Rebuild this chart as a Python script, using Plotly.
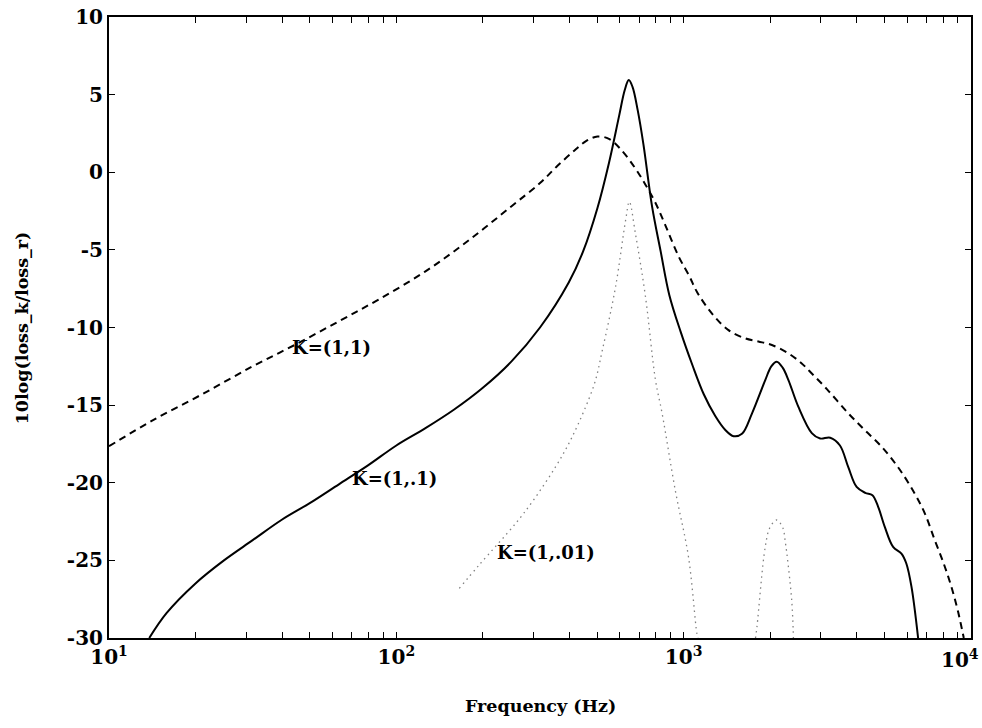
import plotly.graph_objects as go

# ---- data: log10(frequency/Hz) and level in dB ----
k11_logf = [1.0, 1.15, 1.324, 1.5, 1.649, 1.8, 1.938, 2.1, 2.251, 2.4, 2.5, 2.56, 2.62, 2.66,
            2.7, 2.74, 2.78, 2.83, 2.867, 2.9, 2.936, 2.983, 3.02, 3.046, 3.098, 3.156, 3.214,
            3.26, 3.307, 3.365, 3.41, 3.446, 3.5, 3.573, 3.63, 3.689, 3.75, 3.804, 3.84, 3.874,
            3.905, 3.932, 3.955, 3.975]
k11_db = [-17.65, -16.0, -14.3, -12.5, -11.1, -9.6, -8.2, -6.4, -4.4, -2.2, -0.7, 0.4, 1.4, 2.0,
          2.3, 2.15, 1.5, 0.3, -0.8, -1.9, -3.4, -5.44, -6.7, -7.7, -9.09, -10.17, -10.7,
          -10.9, -11.13, -11.67, -12.3, -12.96, -14.0, -15.53, -16.6, -17.68, -19.1, -20.69,
          -22.0, -23.7, -25.2, -26.71, -28.3, -30.0]

k101_logf = [1.14, 1.2, 1.3, 1.4, 1.5, 1.6, 1.7, 1.8, 1.9, 2.0, 2.1, 2.2, 2.3, 2.4, 2.5, 2.6,
             2.65, 2.7, 2.74, 2.775, 2.795, 2.809, 2.822, 2.84, 2.86, 2.89, 2.92, 2.95, 2.99, 3.03,
             3.07, 3.11, 3.145, 3.174, 3.203, 3.238, 3.284, 3.305, 3.324, 3.345, 3.365, 3.399,
             3.446, 3.475, 3.51, 3.544, 3.573, 3.602, 3.632, 3.657, 3.677, 3.70, 3.729, 3.758,
             3.775, 3.793, 3.816]
k101_db = [-30.0, -28.4, -26.5, -25.0, -23.7, -22.4, -21.3, -20.1, -18.9, -17.6, -16.5, -15.3,
           -13.9, -12.2, -10.0, -7.1, -5.1, -2.3, 0.6, 3.6, 5.3, 5.94, 5.5, 4.0, 1.8, -2.2,
           -5.1, -7.9, -10.3, -12.4, -14.3, -15.7, -16.6, -17.0, -16.85, -15.53, -13.39, -12.5,
           -12.2, -12.6, -13.4, -15.1, -16.8, -17.15, -17.1, -17.6, -19.0, -20.27, -20.65, -20.8,
           -21.55, -22.84, -24.13, -24.56, -25.2, -26.71, -30.0]

k1001_logf = [2.219, 2.288, 2.416, 2.474, 2.554, 2.612, 2.688, 2.717, 2.763, 2.798, 2.811, 2.832,
              2.867, 2.902, 2.925, 2.971, 3.017, 3.046, 3.05, None,
              3.25, 3.255, 3.284, 3.30, 3.324, 3.345, 3.353, 3.376, 3.382]
k1001_db = [-26.8, -25.3, -22.6, -21.2, -18.98, -17.04, -13.7, -11.46, -7.38, -3.09, -1.9, -3.94,
            -8.0, -13.39, -15.53, -20.5, -24.8, -29.7, -30.0, None,
            -30.0, -29.3, -24.13, -22.9, -22.4, -22.9, -23.7, -27.56, -30.0]

x_tickvals = [m * 10 ** d for d in range(1, 4) for m in range(1, 10)] + [10000]
x_ticktext = [("10<sup>%d</sup>" % d if m == 1 else " ") for d in range(1, 4) for m in range(1, 10)] + [" "]
last_decade_label = "10<sup>4</sup>"
y_tickvals = [-30, -25, -20, -15, -10, -5, 0, 5, 10]
y_ticktext = ["-30", "-25", "-20", "-15", "-10", "-5", "0", "5", "10"]

# curve labels: (text, log10 f, dB)
labels = [("K=(1,1)", 1.773, -11.26), ("K=(1,.1)", 1.995, -19.7), ("K=(1,.01)", 2.521, -24.5)]


def hz(lf):
    return [None if v is None else 10 ** v for v in lf]


FONT = "DejaVu Serif"

fig = go.Figure()
fig.add_trace(go.Scatter(x=hz(k11_logf), y=k11_db, mode="lines",
                         line=dict(color="black", width=2, dash="7px,5px", shape="spline", smoothing=1.0)))
fig.add_trace(go.Scatter(x=hz(k101_logf), y=k101_db, mode="lines",
                         line=dict(color="black", width=2, shape="spline", smoothing=1.0)))
fig.add_trace(go.Scatter(x=hz(k1001_logf), y=k1001_db, mode="lines", connectgaps=False,
                         line=dict(color="#808080", width=1.3, dash="1.5px,4px", shape="spline", smoothing=1.0)))

for txt, lx, ly in labels:
    fig.add_annotation(x=lx, y=ly, xref="x", yref="y", text=txt, showarrow=False,
                       font=dict(family=FONT, size=18, color="black", weight="bold"))

tickfont = dict(family=FONT, size=20, color="black", weight="bold")

# last decade label, kept inside the page
fig.add_annotation(x=4, y=0, xref="x", yref="paper", text=last_decade_label, showarrow=False,
                   xanchor="right", yanchor="top", xshift=10, yshift=-6, font=tickfont)

# axis titles placed as annotations
fig.add_annotation(x=0.5, y=-0.11, xref="paper", yref="paper", text="Frequency (Hz)",
                   showarrow=False, xanchor="center", yanchor="middle",
                   font=dict(family=FONT, size=17.5, color="black", weight="bold"))
fig.add_annotation(x=-0.101, y=0.5, xref="paper", yref="paper", text="10log(loss_k/loss_r)",
                   showarrow=False, textangle=-90, xanchor="center", yanchor="middle",
                   font=dict(family=FONT, size=17.5, color="black", weight="bold"))

fig.update_layout(
    width=982, height=728,
    margin=dict(l=109, r=11, t=17, b=90),
    paper_bgcolor="white", plot_bgcolor="white",
    showlegend=False,
    xaxis=dict(type="log", range=[0.9999, 4.0001], tickvals=x_tickvals, ticktext=x_ticktext,
               tickangle=0, automargin=False,
               ticks="inside", ticklen=6, tickwidth=1.3, tickcolor="black",
               showline=True, linecolor="black", linewidth=2, mirror="ticks",
               showgrid=False, zeroline=False, tickfont=tickfont),
    yaxis=dict(range=[-30, 10], tickvals=y_tickvals, ticktext=y_ticktext, automargin=False,
               ticks="inside", ticklen=6, tickwidth=1.3, tickcolor="black",
               showline=True, linecolor="black", linewidth=2, mirror="ticks",
               showgrid=False, zeroline=False, tickfont=tickfont),
)

fig.write_html("out.html")
